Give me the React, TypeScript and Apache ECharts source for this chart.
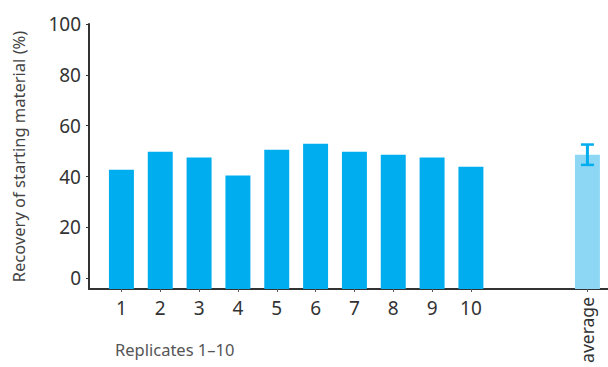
import React, { useEffect, useRef } from "react";
import * as echarts from "echarts";

// Replicate recoveries (%) and their average with its spread
const replicateLabels = ["1", "2", "3", "4", "5", "6", "7", "8", "9", "10"];
const replicateValues = [42.7, 49.8, 47.5, 40.4, 50.6, 52.9, 49.8, 48.6, 47.5, 43.9];
const averageLabel = "average";
const averageValue = 48.6;
const averageError = 4.0;
const yTicks = [0, 20, 40, 60, 80, 100];

const Y_MIN = -4.2;
const Y_MAX = 100;
const X_MIN = 0.165;
const X_MAX = 13.53;
const AVERAGE_POS = 13;
const BAR_WIDTH = 0.643;

const BAR_COLOR = "#00ADEE";
const AVG_COLOR = "#8DD7F5";
const TEXT_COLOR = "#333333";
const FONT = "'Noto Sans', 'DejaVu Sans', sans-serif";

export default function App() {
  const ref = useRef<HTMLDivElement>(null);

  useEffect(() => {
    if (!ref.current) return;
    const chart = echarts.init(ref.current, null, { renderer: "svg" });

    const replicatePos = replicateLabels.map((_, i) => i + 1);
    const barData = [
      ...replicateValues.map((v, i) => [replicatePos[i], v, 0]),
      [AVERAGE_POS, averageValue, 1],
    ];

    chart.setOption({
      animation: false,
      textStyle: { fontFamily: FONT },
      grid: {
        left: 89,
        right: 0,
        top: 24,
        bottom: 78,
        containLabel: false,
        outerBoundsMode: "none",
      },
      xAxis: [
        {
          type: "value",
          min: X_MIN,
          max: X_MAX,
          splitLine: { show: false },
          axisLine: { show: true, onZero: false, lineStyle: { color: "#333", width: 2 } },
          axisTick: {
            show: true,
            customValues: [...replicatePos, AVERAGE_POS],
            length: 3,
            inside: false,
            lineStyle: { color: "#555", width: 1 },
          },
          axisLabel: {
            customValues: replicatePos,
            formatter: (v: number) => replicateLabels[Math.round(v) - 1] ?? "",
            color: TEXT_COLOR,
            fontSize: 19,
            margin: 9,
            fontFamily: FONT,
          },
        },
        {
          type: "value",
          min: X_MIN,
          max: X_MAX,
          position: "bottom",
          splitLine: { show: false },
          axisLine: { show: false, onZero: false },
          axisTick: { show: false },
          axisLabel: {
            customValues: [AVERAGE_POS],
            formatter: () => averageLabel,
            rotate: 90,
            color: TEXT_COLOR,
            fontSize: 17.5,
            margin: 8,
            fontFamily: FONT,
          },
        },
      ],
      yAxis: {
        type: "value",
        min: Y_MIN,
        max: Y_MAX,
        name: "Recovery of starting material (%)",
        nameLocation: "middle",
        nameGap: 62,
        nameTextStyle: { color: "#444", fontSize: 16.5, fontFamily: FONT },
        splitLine: { show: false },
        axisLine: { show: true, onZero: false, lineStyle: { color: "#333", width: 2 } },
        axisTick: {
          show: true,
          customValues: yTicks,
          length: 3,
          lineStyle: { color: "#333", width: 1 },
        },
        axisLabel: {
          customValues: yTicks,
          color: TEXT_COLOR,
          fontSize: 19,
          margin: 8,
          fontFamily: FONT,
        },
      },
      series: [
        {
          type: "custom",
          xAxisIndex: 0,
          data: barData,
          renderItem: (_params: any, api: any) => {
            const x = api.value(0);
            const y = api.value(1);
            const kind = api.value(2);
            const top = api.coord([x, y]);
            const base = api.coord([x, Y_MIN]);
            const w = api.size([BAR_WIDTH, 0])[0];
            return {
              type: "rect",
              shape: { x: top[0] - w / 2, y: top[1], width: w, height: base[1] - top[1] },
              style: { fill: kind === 1 ? AVG_COLOR : BAR_COLOR },
            };
          },
          z: 2,
        },
        {
          type: "custom",
          xAxisIndex: 0,
          data: [[AVERAGE_POS, averageValue - averageError, averageValue + averageError]],
          renderItem: (_params: any, api: any) => {
            const x = api.value(0);
            const lo = api.coord([x, api.value(1)]);
            const hi = api.coord([x, api.value(2)]);
            const half = 6.5;
            const style = { stroke: BAR_COLOR, lineWidth: 2.5 };
            return {
              type: "group",
              children: [
                { type: "line", shape: { x1: lo[0], y1: lo[1], x2: hi[0], y2: hi[1] }, style: { stroke: BAR_COLOR, lineWidth: 3 } },
                { type: "line", shape: { x1: lo[0] - half, y1: lo[1], x2: lo[0] + half, y2: lo[1] }, style },
                { type: "line", shape: { x1: hi[0] - half, y1: hi[1], x2: hi[0] + half, y2: hi[1] }, style },
              ],
            };
          },
          z: 3,
        },
      ],
      graphic: [
        {
          type: "text",
          left: 115,
          top: 341,
          style: {
            text: "Replicates 1–10",
            fill: "#555",
            fontSize: 16.5,
            fontFamily: FONT,
          },
        },
      ],
    });

    return () => chart.dispose();
  }, []);

  return <div ref={ref} style={{ width: 608, height: 367, position: "absolute", left: 0, top: 0 }} />;
}
